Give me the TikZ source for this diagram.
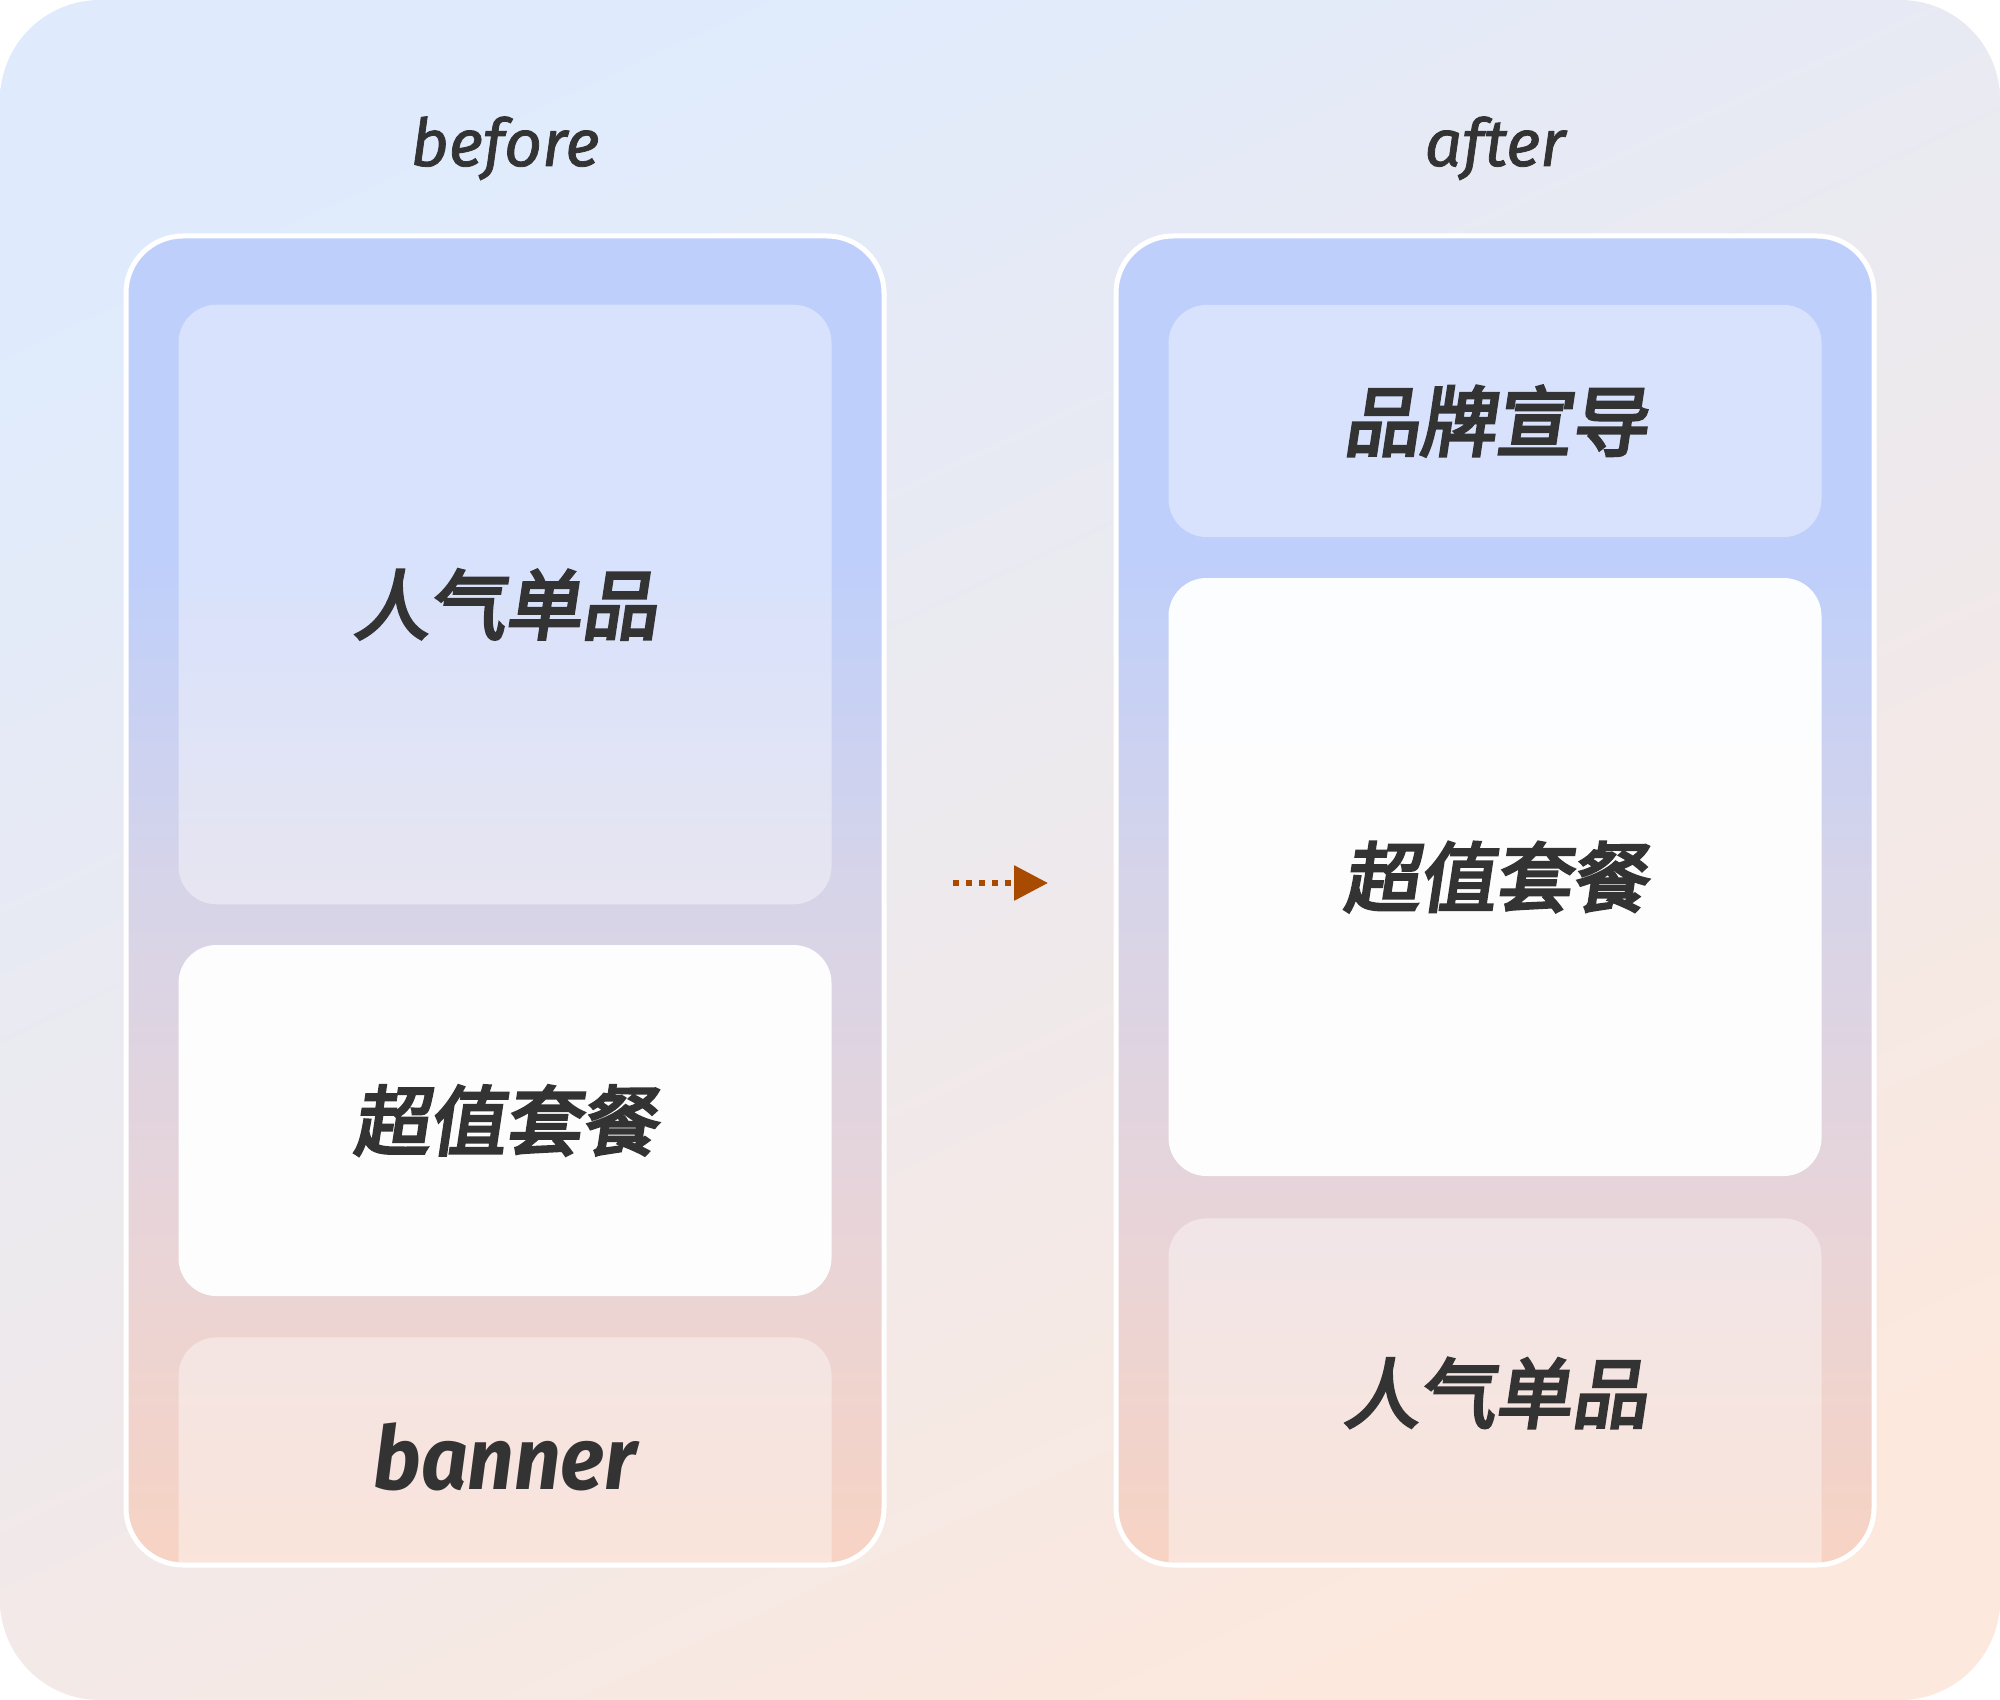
\documentclass[tikz,border=0pt]{standalone}
\usepackage{fontspec}
\usetikzlibrary{arrows.meta}
\newfontfamily\cjk[FakeSlant=0.15, FakeBold=4]{Noto Sans CJK SC}
\newfontfamily\lat[FakeBold=1.2]{Fira Sans}
\newfontfamily\latb{Fira Sans}
\definecolor{ptop}{HTML}{BECFFB}
\definecolor{pmid}{HTML}{D7D4E8}
\definecolor{pmidb}{HTML}{E9D4D7}
\definecolor{pbot}{HTML}{F7D3C3}
\definecolor{bgtop}{HTML}{DFEBFD}
\definecolor{bgbot}{HTML}{FCE8DD}
\definecolor{txt}{HTML}{333333}
\definecolor{arrowc}{HTML}{A84B00}
\pgfdeclareverticalshading{panelshade}{100bp}{color(0bp)=(pbot); color(25bp)=(pbot); color(37bp)=(pmidb); color(50bp)=(pmid); color(63bp)=(ptop); color(75bp)=(ptop); color(100bp)=(ptop)}
\tikzset{
  panel/.style={rounded corners=28.5pt},
  panelborder/.style={draw=white, line width=2.5pt, rounded corners=28.5pt},
  softbox/.style={fill=white, fill opacity=0.4, rounded corners=19pt, inner sep=0pt, text opacity=1},
  whitebox/.style={fill=white, fill opacity=0.96, rounded corners=19pt, inner sep=0pt, text opacity=1},
  cjklabel/.style={font=\cjk\fontsize{38}{40}\selectfont, text=txt},
  title/.style={font=\lat\itshape\fontsize{33}{36}\selectfont, text=txt, anchor=base},
}
\begin{document}
\begin{tikzpicture}[x=0.5pt,y=-0.5pt]
\useasboundingbox (0,0) rectangle (2000,1700);
\fill[white] (0,0) rectangle (2000,1700);
\shade[top color=bgtop, bottom color=bgbot, shading angle=25, rounded corners=50pt] (0,0) rectangle (2000,1700);

% titles
\node[title] (tbefore) at (505,166) {before};
\node[title] (tafter) at (1495,166) {after};

% left panel
\shade[panel, shading=panelshade] (126,236) rectangle (884,1565);
\begin{scope}
\clip[panel] (126,236) rectangle (884,1565);
\node[softbox, minimum width=326.5pt, minimum height=299.75pt] (l1) at (505,604.5) {};
\node[whitebox, minimum width=326.5pt, minimum height=175.5pt] (l2) at (505,1120.5) {};
\node[softbox, minimum width=326.5pt, minimum height=200pt, anchor=north] (l3) at (505,1337) {};
\end{scope}
\draw[panelborder] (126,236) rectangle (884,1565);
\node[cjklabel] (l1t) at (l1.center) {人气单品};
\node[cjklabel] (l2t) at (l2.center) {超值套餐};
\node[font=\latb\itshape\bfseries\fontsize{44}{48}\selectfont, text=txt, anchor=base] (l3t) at (505,1489) {\scalebox{0.93}[1]{banner}};

% right panel
\shade[panel, shading=panelshade] (1116,236) rectangle (1874,1565);
\begin{scope}
\clip[panel] (1116,236) rectangle (1874,1565);
\node[softbox, minimum width=326.5pt, minimum height=116pt] (r1) at (1495,421) {};
\node[whitebox, minimum width=326.5pt, minimum height=299pt] (r2) at (1495,877) {};
\node[softbox, minimum width=326.5pt, minimum height=200pt, anchor=north] (r3) at (1495,1218) {};
\end{scope}
\draw[panelborder] (1116,236) rectangle (1874,1565);
\node[cjklabel] (r1t) at (1495,421) {品牌宣导};
\node[cjklabel] (r2t) at (r2.center) {超值套餐};
\node[cjklabel] (r3t) at (1495,1393) {人气单品};

% arrow
\coordinate (as) at (953,883);
\coordinate (ae) at (1048,883);
\draw[arrowc, line width=3pt, dash pattern=on 3pt off 3.5pt, -{Triangle[length=17pt,width=17pt]}] (as) -- (ae);
\end{tikzpicture}
\end{document}
